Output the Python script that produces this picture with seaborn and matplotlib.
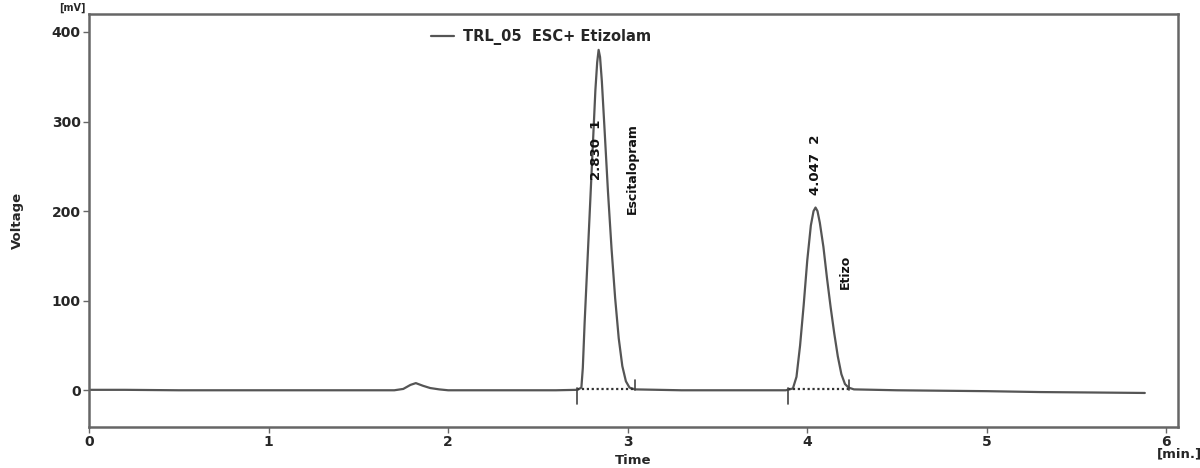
import numpy as np
import pandas as pd
import matplotlib
matplotlib.use("Agg")
import matplotlib.pyplot as plt
import seaborn as sns

# chromatogram trace (time in min, voltage in mV)
baseline_t = [0.0, 0.2, 0.5, 1.0, 1.5, 1.70, 2.00, 2.3, 2.6, 2.72,
              3.04, 3.3, 3.6, 3.88, 4.26, 4.5, 5.0, 5.3, 5.6, 5.88]
baseline_v = [0.5, 0.5, 0.0, 0.0, 0.0, 0.0, 0.0, 0.0, 0.0, 0.5,
              1.0, 0.0, 0.0, 0.0, 1.0, 0.0, -1.0, -2.0, -2.5, -3.0]

bump_t = [1.75, 1.79, 1.82, 1.86, 1.90, 1.95]
bump_v = [1.5, 6.0, 8.0, 5.0, 2.5, 1.0]

peak1_t = [2.742, 2.75, 2.76, 2.775, 2.79, 2.805, 2.82, 2.83, 2.838, 2.846,
           2.856, 2.87, 2.89, 2.91, 2.93, 2.95, 2.97, 2.99, 3.01]
peak1_v = [3, 25, 75, 140, 205, 270, 335, 366, 380, 372,
           345, 295, 222, 158, 103, 58, 27, 10, 3]

peak2_t = [3.92, 3.94, 3.96, 3.98, 4.00, 4.02, 4.035, 4.046, 4.057, 4.07,
           4.09, 4.11, 4.13, 4.15, 4.17, 4.19, 4.21, 4.23]
peak2_v = [2, 15, 50, 95, 145, 184, 200, 204, 200, 187,
           160, 125, 93, 64, 38, 18, 7, 3]

# peak table
ret_times = [2.830, 4.047]
peak_ids = [1, 2]
peak_names = ["Escitalopram", "Etizo"]
peak_start = [2.72, 3.89]
peak_end = [3.04, 4.23]

x_ticks = [0, 1, 2, 3, 4, 5, 6]
y_ticks = [0, 100, 200, 300, 400]

df = pd.DataFrame({
    "Time": baseline_t + bump_t + peak1_t + peak2_t,
    "Voltage": baseline_v + bump_v + peak1_v + peak2_v,
}).sort_values("Time")
df["trace"] = "TRL_05  ESC+ Etizolam"

sns.set_style("white")
plt.rcParams["font.family"] = ["DejaVu Sans"]

fig = plt.figure(figsize=(12, 4.68), dpi=100)
ax = fig.add_axes([0.0742, 0.0876, 0.9075, 0.8824])

line_col = "#555555"
sns.lineplot(data=df, x="Time", y="Voltage", hue="trace", palette=[line_col],
             linewidth=1.6, ax=ax, sort=False, estimator=None)

# integration baselines + markers
for s, e in zip(peak_start, peak_end):
    ax.plot([s, e], [1, 1], color="#333333", linestyle=(0, (1, 1.2)), linewidth=1.6)
    ax.plot([s, s], [3, -15], color="#444444", linewidth=1.2)
    ax.plot([e, e], [0, 12], color="#444444", linewidth=1.2)

# peak labels
lab_kw = dict(rotation=90, ha="center", va="center", color="#111111",
              fontweight="bold")
narrow = ["Liberation Sans Narrow", "DejaVu Sans"]
ax.text(2.825, 268, f"{ret_times[0]:.3f}  {peak_ids[0]}", fontsize=9.5,
        family=narrow, **lab_kw)
ax.text(3.025, 247, peak_names[0], fontsize=9, family=narrow, **lab_kw)
ax.text(4.045, 252, f"{ret_times[1]:.3f}  {peak_ids[1]}", fontsize=9.5,
        family=narrow, **lab_kw)
ax.text(4.215, 132, peak_names[1], fontsize=9, family=narrow, **lab_kw)

ax.set_xlim(0, 6.065)
ax.set_ylim(-41, 420)
ax.set_xticks(x_ticks)
ax.set_yticks(y_ticks)
ax.set_xticklabels([str(t) for t in x_ticks], fontweight="bold", fontsize=10)
ax.set_yticklabels([str(t) for t in y_ticks], fontweight="bold", fontsize=10)
ax.tick_params(axis="both", direction="out", length=4, width=1, color="#666666",
               bottom=True, left=True, pad=2)

ax.set_xlabel("Time", fontweight="bold", fontsize=9.5, labelpad=3)
ax.set_ylabel("Voltage", fontweight="bold", fontsize=9.5, labelpad=20)
for sp in ax.spines.values():
    sp.set_color("#666666")
    sp.set_linewidth(1.8)

fig.text(0.983, 0.022, "[min.]", fontsize=9.5, fontweight="bold", ha="center")
fig.text(0.06, 0.972, "[mV]", fontsize=7, fontweight="bold", ha="center", va="bottom")

leg = ax.legend(loc="upper left", bbox_to_anchor=(0.302, 0.996), frameon=False,
                handlelength=1.6, handletextpad=0.6, fontsize=10.5)
for t in leg.get_texts():
    t.set_fontweight("bold")

fig.savefig("out.png", dpi=100)
